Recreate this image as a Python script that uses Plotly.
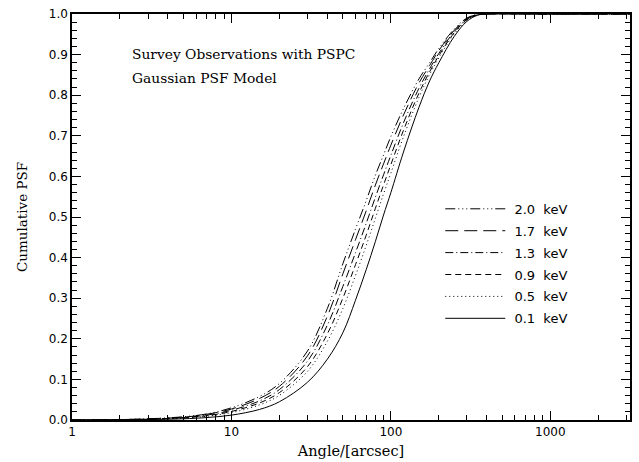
import plotly.graph_objects as go

# angle grid (arcsec) at which the curves were read
angle = [1, 2, 3, 5, 7, 10, 15, 20, 30, 40, 50, 60, 70, 80, 90, 100, 120, 150, 175, 200, 250, 300, 350, 400, 1000, 3162]

psf_20 = [0, .001, .003, .008, .015, .030, .058, .090, .170, .275, .385, .470, .540, .603, .653, .698, .767, .840, .880, .915, .963, .990, .999, 1, 1, 1]
psf_17 = [0, .001, .003, .007, .014, .027, .053, .083, .158, .256, .360, .444, .515, .579, .631, .677, .751, .830, .873, .910, .960, .989, .999, 1, 1, 1]
psf_13 = [0, .001, .002, .006, .012, .024, .047, .075, .145, .234, .329, .412, .484, .549, .604, .652, .732, .817, .865, .903, .957, .987, .998, 1, 1, 1]
psf_09 = [0, .001, .002, .0055, .0105, .021, .042, .0675, .1315, .2125, .300, .3825, .455, .5215, .579, .629, .7135, .805, .8575, .8975, .954, .986, .998, 1, 1, 1]
psf_05 = [0, .001, .0017, .0048, .0092, .0183, .0372, .0608, .120, .194, .2745, .356, .4295, .497, .557, .608, .6975, .7945, .8508, .8923, .9513, .9848, .9977, 1, 1, 1]
psf_01 = [0, .0005, .001, .003, .006, .012, .026, .045, .093, .150, .215, .295, .370, .440, .505, .560, .660, .770, .835, .880, .945, .982, .997, 1, 1, 1]

labels = ["2.0  keV", "1.7  keV", "1.3  keV", "0.9  keV", "0.5  keV", "0.1  keV"]
series = [psf_20, psf_17, psf_13, psf_09, psf_05, psf_01]
dashes = ["10px,3px,1px,3px,1px,3px,1px,3px", "13px,6px", "8px,3px,1px,3px", "6px,4px", "1px,3px", "solid"]

x_major = [1, 10, 100, 1000]
x_major_text = ["1", "10", "100", "1000"]
x_minor = [m * d for d in [1, 10, 100, 1000] for m in range(2, 10) if m * d <= 3162]

NB = "\u00a0"
fig = go.Figure()
for lab, ys, ds in zip(labels, series, dashes):
    fig.add_trace(go.Scatter(x=angle, y=ys, mode="lines",
                             name=NB + lab.replace(" ", NB), legendgroup=lab,
                             line=dict(color="black", width=1, dash=ds, shape="spline", smoothing=1.0)))

tickfont = dict(family="DejaVu Sans", size=12, color="black")

fig.update_layout(
    width=639, height=462,
    margin=dict(l=72, r=9, t=14, b=42, autoexpand=False),
    paper_bgcolor="white", plot_bgcolor="white",
    showlegend=True,
    legend=dict(x=0.66, y=0.557, xanchor="left", yanchor="top", bgcolor="rgba(0,0,0,0)",
                font=dict(family="DejaVu Sans", size=13, color="black"),
                tracegroupgap=2, itemwidth=60),
    xaxis=dict(type="log", range=[0, 3.5], tickmode="array", tickvals=x_major, ticktext=x_major_text,
               automargin=False,
               ticks="inside", ticklen=9, tickwidth=1, tickcolor="black",
               showline=True, linecolor="black", linewidth=1.5, mirror="allticks",
               showgrid=False, zeroline=False, tickfont=tickfont,
               minor=dict(tickmode="array", tickvals=x_minor, ticks="inside", ticklen=5, tickcolor="black", showgrid=False),
               title=dict(text="Angle/[arcsec]", font=dict(family="DejaVu Serif", size=14.5, color="black"), standoff=8)),
    yaxis=dict(range=[0, 1], dtick=0.1, tickformat=".1f",
               automargin=False,
               ticks="inside", ticklen=9, tickwidth=1, tickcolor="black",
               showline=True, linecolor="black", linewidth=1.5, mirror="allticks",
               showgrid=False, zeroline=False, tickfont=tickfont,
               minor=dict(dtick=0.02, ticks="inside", ticklen=5, tickcolor="black", showgrid=False),
               title=dict(text="Cumulative PSF", font=dict(family="DejaVu Serif", size=13.5, color="black"), standoff=18)),
    annotations=[
        dict(x=0.104, y=0.901, xref="paper", yref="paper", xanchor="left", yanchor="middle",
             text="Survey Observations with PSPC", showarrow=False,
             font=dict(family="DejaVu Serif", size=13.8, color="black")),
        dict(x=0.104, y=0.842, xref="paper", yref="paper", xanchor="left", yanchor="middle",
             text="Gaussian PSF Model", showarrow=False,
             font=dict(family="DejaVu Serif", size=13.8, color="black")),
    ],
)

fig.write_html("out.html")
